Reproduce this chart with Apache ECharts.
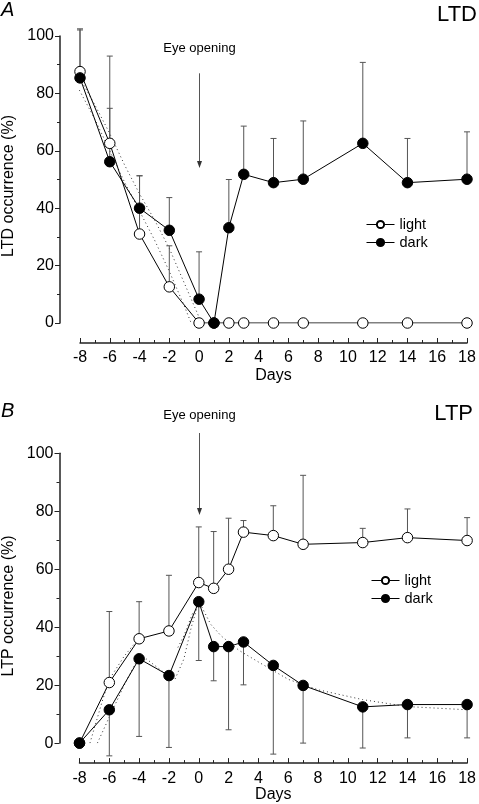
<!DOCTYPE html>
<html>
<head>
<meta charset="utf-8">
<script src="https://cdn.jsdelivr.net/npm/echarts@6/dist/echarts.min.js"></script>
<style>
html,body{margin:0;padding:0;background:#fff;}
#chart{width:479px;height:804px;}
</style>
</head>
<body>
<div id="chart"></div>
<script>
// ---------------- data ----------------
const days = [-8, -6, -4, -2, 0, 1, 2, 3, 5, 7, 11, 14, 18];
const xTicks = [-8, -6, -4, -2, 0, 2, 4, 6, 8, 10, 12, 14, 16, 18];
const yTicks = [0, 20, 40, 60, 80, 100];

// Panel A: LTD occurrence (%)
const ltdLight = [87.6, 62.6, 31, 12.6, 0, 0, 0, 0, 0, 0, 0, 0, 0];
const ltdDark = [85.4, 56.2, 40, 32.3, 8.3, 0, 33.2, 51.8, 48.9, 50.1, 62.6, 48.9, 50.1];
const ltdLightUpper = [102.5, 93, 51.3, 26.9, null, null, null, null, null, null, null, null, null];
const ltdDarkUpper = [102.1, 74.8, 51.3, 43.7, 24.8, null, 50, 68.6, 64.3, 70.4, 90.8, 64.3, 66.6];
// dotted fit curves
const ltdFitAx = [-8.8, -7, -6, -5, -4, -3, -2, -1, 0];
const ltdFitAy = [92.5, 76, 66, 55, 45, 36, 26, 14, 2];
const ltdFitBx = [-8.8, -7, -6, -5, -4, -3, -2, -1, -0.3];
const ltdFitBy = [88.5, 71, 60, 49, 39, 29, 18, 6, -3];

// Panel B: LTP occurrence (%)
const ltpLight = [0, 20.9, 36, 38.7, 55.4, 53.4, 60, 72.8, 71.6, 68.6, 69.2, 70.9, 69.9];
const ltpDark = [0, 11.5, 29.1, 23.3, 48.8, 33.3, 33.3, 34.9, 26.8, 19.9, 12.5, 13.3, 13.3];
const ltpLightUpper = [null, 45.4, 48.8, 57.9, 74.6, 73, 77.6, 76.8, 81.9, 92.4, 74.1, 80.8, 77.8];
const ltpDarkLower = [null, -4.4, 2.3, -1.5, 28.5, 21.5, 4.6, 20.1, -3.8, 0, -1.7, 1.8, 1.8];
const ltpFitAx = [-7.3, -6.5, -6, -5, -4.2];
const ltpFitAy = [0, 14, 22, 30, 35];
const ltpFitBx = [-6.8, -6, -5, -4.2, -3.5, -2.5, -1.6, -1, -0.5, -0.1];
const ltpFitBy = [0, 9, 20, 28, 29, 25, 22, 29, 40, 47];
const ltpFitCx = [-1.4, -1, -0.4];
const ltpFitCy = [33, 37, 45];
const ltpFitDx = [0.2, 0.8, 1.5, 2.7, 4, 5, 6, 8, 11, 14, 18];
const ltpFitDy = [47, 41, 37, 32, 28, 25, 22, 18.4, 15, 12.6, 11.5];

// ---------------- helpers ----------------
const FONT = 'Liberation Sans, Arial, sans-serif';
const pairs = (xs, ys) => xs.map((x, i) => [x, ys[i]]);
const errData = (vals, bounds) => days.map((d, i) => bounds[i] == null ? null : [d, vals[i], bounds[i]]).filter(v => v);

function errSeries(idx, data) {
  return {
    type: 'custom', xAxisIndex: idx, yAxisIndex: idx, z: 2, silent: true,
    data: data, encode: { x: 0, y: [1, 2] },
    renderItem: function (params, api) {
      const x = api.value(0), a = api.value(1), b = api.value(2);
      const p1 = api.coord([x, a]), p2 = api.coord([x, b]);
      const w = 3;
      const st = { stroke: '#555', lineWidth: 1 };
      return { type: 'group', children: [
        { type: 'line', shape: { x1: p1[0], y1: p1[1], x2: p2[0], y2: p2[1] }, style: st },
        { type: 'line', shape: { x1: p2[0] - w, y1: p2[1], x2: p2[0] + w, y2: p2[1] }, style: st }
      ]};
    }
  };
}
function dotSeries(idx, xs, ys) {
  return { type: 'line', xAxisIndex: idx, yAxisIndex: idx, z: 1, silent: true, data: pairs(xs, ys),
    showSymbol: false, symbol: 'none', lineStyle: { color: '#333', width: 1, type: [1, 3] } };
}
function mainSeries(idx, name, vals, open) {
  return { type: 'line', name: name, xAxisIndex: idx, yAxisIndex: idx, z: 3, data: pairs(days, vals),
    symbol: 'circle', symbolSize: 10.5,
    itemStyle: { color: open ? '#fff' : '#000', borderColor: '#000', borderWidth: 1 },
    lineStyle: { color: '#000', width: 1 } };
}
function xAxisCfg(idx, gap) {
  return { type: 'value', gridIndex: idx, min: xTicks[0], max: xTicks[xTicks.length - 1], interval: 2,
    offset: 20, name: 'Days', nameLocation: 'middle', nameGap: gap,
    nameTextStyle: { fontFamily: FONT, fontSize: 16, color: '#000' },
    axisLine: { show: true, onZero: false, lineStyle: { color: '#222', width: 1.5 } },
    axisTick: { show: true, inside: true, length: 5, lineStyle: { color: '#222' } },
    minorTick: { show: true, splitNumber: 2, length: 3, lineStyle: { color: '#222' } },
    axisLabel: { fontFamily: FONT, fontSize: 16, color: '#000', margin: 7,
      formatter: v => xTicks.indexOf(v) >= 0 ? String(v) : '' },
    splitLine: { show: false } };
}
function yAxisCfg(idx) {
  return { type: 'value', gridIndex: idx, min: yTicks[0], max: yTicks[yTicks.length - 1], interval: 20,
    offset: 20,
    axisLine: { show: true, onZero: false, lineStyle: { color: '#222', width: 1.5 } },
    axisTick: { show: true, inside: false, length: 5, lineStyle: { color: '#222' } },
    minorTick: { show: true, splitNumber: 2, length: 3, lineStyle: { color: '#222' } },
    axisLabel: { fontFamily: FONT, fontSize: 16, color: '#000', margin: 6,
      formatter: v => yTicks.indexOf(v) >= 0 ? String(v) : '' },
    splitLine: { show: false } };
}
function legendCfg(left, top) {
  return { data: ['light', 'dark'], orient: 'vertical', left: left, top: top,
    itemWidth: 28, itemHeight: 9, itemGap: 3, selectedMode: false,
    lineStyle: { width: 1 },
    textStyle: { fontFamily: FONT, fontSize: 14.5, color: '#000' } };
}

const chart = echarts.init(document.getElementById('chart'), null, { renderer: 'canvas' });
const option = {
  animation: false,
  backgroundColor: '#fff',
  grid: [
    { left: 80, right: 12, top: 36, height: 287 },
    { left: 79.5, right: 8.5, top: 453.3, height: 290 }
  ],
  xAxis: [xAxisCfg(0, 25), xAxisCfg(1, 23)],
  yAxis: [yAxisCfg(0), yAxisCfg(1)],
  legend: [legendCfg(361, 212), legendCfg(366, 568)],
  series: [
    dotSeries(0, ltdFitAx, ltdFitAy),
    dotSeries(0, ltdFitBx, ltdFitBy),
    errSeries(0, errData(ltdLight, ltdLightUpper)),
    errSeries(0, errData(ltdDark, ltdDarkUpper)),
    mainSeries(0, 'light', ltdLight, true),
    mainSeries(0, 'dark', ltdDark, false),
    dotSeries(1, ltpFitAx, ltpFitAy),
    dotSeries(1, ltpFitBx, ltpFitBy),
    dotSeries(1, ltpFitCx, ltpFitCy),
    dotSeries(1, ltpFitDx, ltpFitDy),
    errSeries(1, errData(ltpLight, ltpLightUpper)),
    errSeries(1, errData(ltpDark, ltpDarkLower)),
    mainSeries(1, 'light', ltpLight, true),
    mainSeries(1, 'dark', ltpDark, false)
  ]
};
chart.setOption(option);

// ---------------- annotations ----------------
function arrow(grid, yFrom, yTo, textGap) {
  const p1 = chart.convertToPixel({ gridIndex: grid }, [0, yFrom]);
  const p2 = chart.convertToPixel({ gridIndex: grid }, [0, yTo]);
  const x = Math.round(p1[0]) + 0.5;
  return [
    { type: 'line', shape: { x1: x, y1: p1[1], x2: x, y2: p2[1] - 6 }, style: { stroke: '#555', lineWidth: 1 } },
    { type: 'polygon', shape: { points: [[x - 2.5, p2[1] - 7], [x + 2.5, p2[1] - 7], [x, p2[1]]] }, style: { fill: '#333' } },
    { type: 'text', x: x, y: p1[1] - textGap, style: { text: 'Eye opening', fontFamily: FONT, fontSize: 13, fill: '#000', textAlign: 'center', textVerticalAlign: 'middle' } }
  ];
}
const texts = [
  { type: 'text', x: 1, y: 10, style: { text: 'A', fontFamily: FONT, fontSize: 20, fontStyle: 'italic', fill: '#000', textAlign: 'left', textVerticalAlign: 'middle' } },
  { type: 'text', x: 477, y: 15, style: { text: 'LTD', fontFamily: FONT, fontSize: 22, fill: '#000', textAlign: 'right', textVerticalAlign: 'middle' } },
  { type: 'text', x: 1, y: 411, style: { text: 'B', fontFamily: FONT, fontSize: 20, fontStyle: 'italic', fill: '#000', textAlign: 'left', textVerticalAlign: 'middle' } },
  { type: 'text', x: 473, y: 414, style: { text: 'LTP', fontFamily: FONT, fontSize: 22, fill: '#000', textAlign: 'right', textVerticalAlign: 'middle' } },
  { type: 'text', x: 9, y: 186, rotation: Math.PI / 2, style: { text: 'LTD occurrence (%)', fontFamily: FONT, fontSize: 16, fill: '#000', textAlign: 'center', textVerticalAlign: 'middle' } },
  { type: 'text', x: 9, y: 606, rotation: Math.PI / 2, style: { text: 'LTP occurrence (%)', fontFamily: FONT, fontSize: 16, fill: '#000', textAlign: 'center', textVerticalAlign: 'middle' } }
];
chart.setOption({ graphic: texts.concat(arrow(0, 87, 54, 25), arrow(1, 107, 78.7, 18)) });
</script>
</body>
</html>
